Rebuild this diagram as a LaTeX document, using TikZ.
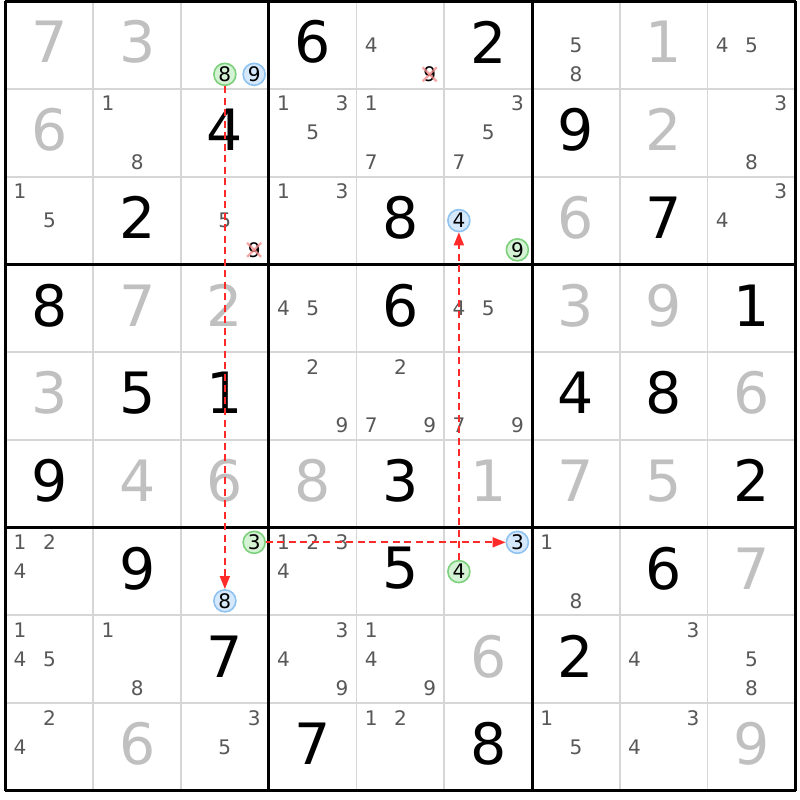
\documentclass[tikz,border=0pt]{standalone}
\usepackage{fontspec}
\setmainfont{DejaVu Sans}
\usetikzlibrary{arrows.meta}
\definecolor{solvedc}{HTML}{C0C0C0}
\definecolor{candc}{HTML}{585858}
\definecolor{gridc}{HTML}{D6D6D6}
\definecolor{linkc}{HTML}{FF2A2A}
\definecolor{grfill}{HTML}{D4F2D4}
\definecolor{grline}{HTML}{7CD07C}
\definecolor{blfill}{HTML}{D6E8FB}
\definecolor{blline}{HTML}{8EC2F0}
\definecolor{crossc}{HTML}{F28A8A}
\begin{document}
\begin{tikzpicture}[x=0.01cm,y=-0.01cm,
  given/.style={font=\fontsize{16.2pt}{16.2pt}\selectfont, text=black, inner sep=0pt},
  solved/.style={given, text=solvedc},
  cand/.style={font=\fontsize{5.7pt}{5.7pt}\selectfont, text=candc, inner sep=0pt},
  hlbase/.style={circle, inner sep=0pt, minimum size=0.22cm, line width=0.45pt,
    font=\fontsize{5.7pt}{5.7pt}\selectfont, text=black},
  hlgreen/.style={hlbase, draw=grline, fill=grfill},
  hlblue/.style={hlbase, draw=blline, fill=blfill},
  crossed/.style={cand, text=black},
  xmark/.style={draw=crossc, line width=0.65pt, opacity=0.75},
  thin/.style={draw=gridc, line width=0.55pt},
  thick/.style={draw=black, line width=0.85pt},
  link/.style={draw=linkc, line width=0.5pt, dash pattern=on 0.07cm off 0.045cm,
    -{Triangle[length=0.13cm,width=0.10cm]}}
]
\def\gx{5.5}\def\gy{1.2}\def\cs{87.75}
\useasboundingbox (0,0) rectangle (800,800);
\fill[white] (0,0) rectangle (800,800);
% thin lines
\foreach \i in {1,2,4,5,7,8}{
  \draw[thin] ({\gx+\cs*\i},{\gy}) -- ({\gx+\cs*\i},{\gy+9*\cs});
  \draw[thin] ({\gx},{\gy+\cs*\i}) -- ({\gx+9*\cs},{\gy+\cs*\i});
}
% thick lines
\foreach \i in {0,3,6,9}{
  \draw[thick] ({\gx+\cs*\i},{\gy-0.4}) -- ({\gx+\cs*\i},{\gy+9*\cs+0.4});
  \draw[thick] ({\gx-0.4},{\gy+\cs*\i}) -- ({\gx+9*\cs+0.4},{\gy+\cs*\i});
}
% given digits
\foreach \r/\c/\d in {0/3/6,0/5/2,1/2/4,1/6/9,2/1/2,2/4/8,2/7/7,3/0/8,3/4/6,3/8/1,
  4/1/5,4/2/1,4/6/4,4/7/8,5/0/9,5/4/3,5/8/2,6/1/9,6/4/5,6/7/6,7/2/7,7/6/2,8/3/7,8/5/8}
  \node[given] (g\r\c) at ({\gx+\cs*(\c+0.5)},{\gy+\cs*(\r+0.5)-3}) {\d};
% solved digits
\foreach \r/\c/\d in {0/0/7,0/1/3,0/7/1,1/0/6,1/7/2,2/6/6,3/1/7,3/2/2,3/6/3,3/7/9,
  4/0/3,4/8/6,5/1/4,5/2/6,5/3/8,5/5/1,5/6/7,5/7/5,6/8/7,7/5/6,8/1/6,8/8/9}
  \node[solved] (g\r\c) at ({\gx+\cs*(\c+0.5)},{\gy+\cs*(\r+0.5)-3}) {\d};
% candidates
\foreach \r/\c/\d/\s in {0/4/4/cand,0/6/5/cand,0/6/8/cand,0/8/4/cand,0/8/5/cand,
  1/1/1/cand,1/1/8/cand,1/3/1/cand,1/3/3/cand,1/3/5/cand,1/4/1/cand,1/4/7/cand,
  1/5/3/cand,1/5/5/cand,1/5/7/cand,1/8/3/cand,1/8/8/cand,
  2/0/1/cand,2/0/5/cand,2/2/5/cand,2/3/1/cand,2/3/3/cand,2/8/3/cand,2/8/4/cand,
  3/3/4/cand,3/3/5/cand,3/5/4/cand,3/5/5/cand,
  4/3/2/cand,4/3/9/cand,4/4/2/cand,4/4/7/cand,4/4/9/cand,4/5/7/cand,4/5/9/cand,
  6/0/1/cand,6/0/2/cand,6/0/4/cand,6/3/1/cand,6/3/2/cand,6/3/3/cand,6/3/4/cand,
  6/6/1/cand,6/6/8/cand,
  7/0/1/cand,7/0/4/cand,7/0/5/cand,7/1/1/cand,7/1/8/cand,7/3/3/cand,7/3/4/cand,
  7/3/9/cand,7/4/1/cand,7/4/4/cand,7/4/9/cand,7/7/3/cand,7/7/4/cand,7/8/5/cand,7/8/8/cand,
  8/0/2/cand,8/0/4/cand,8/2/3/cand,8/2/5/cand,8/4/1/cand,8/4/2/cand,8/6/1/cand,
  8/6/5/cand,8/7/3/cand,8/7/4/cand,
  0/4/9/crossed,2/2/9/crossed,
  0/2/8/hlgreen,0/2/9/hlblue,2/5/4/hlblue,2/5/9/hlgreen,
  6/2/3/hlgreen,6/2/8/hlblue,6/5/3/hlblue,6/5/4/hlgreen}{
  \pgfmathtruncatemacro\sc{mod(\d-1,3)}
  \pgfmathtruncatemacro\sr{int((\d-1)/3)}
  \node[\s] (k\r\c\d) at ({\gx+\cs*(\c+(2*\sc+1)/6)},{\gy+\cs*(\r+(2*\sr+1)/6)}) {\d};
}
% crossed-out marks
\foreach \n in {k049,k229}{
  \draw[xmark] ([shift={(-7,-7)}]\n.center) -- ([shift={(7,7)}]\n.center);
  \draw[xmark] ([shift={(-7,7)}]\n.center) -- ([shift={(7,-7)}]\n.center);
}
% links
\draw[link] (k028) -- (k628);
\draw[link] (k623) -- (k653);
\draw[link] (k654) -- (k254);
\end{tikzpicture}
\end{document}
